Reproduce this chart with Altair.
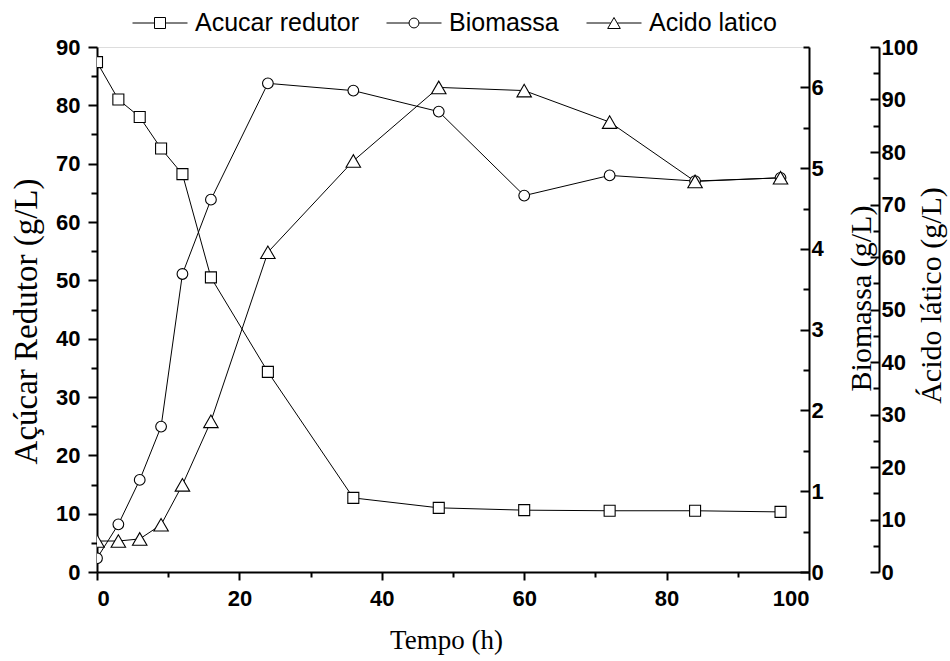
import altair as alt
import pandas as pd

# ---- data ----
tempo = [0, 3, 6, 9, 12, 16, 24, 36, 48, 60, 72, 84, 96]
acucar = [87.4, 81.0, 78.0, 72.6, 68.2, 50.5, 34.3, 12.7, 11.0, 10.6, 10.5, 10.5, 10.3]
biomassa = [0.17, 0.59, 1.14, 1.80, 3.69, 4.61, 6.05, 5.96, 5.70, 4.66, 4.91, 4.84, 4.88]
acido = [5.9, 5.9, 6.3, 9.0, 16.6, 28.7, 60.9, 78.3, 92.3, 91.7, 85.7, 74.4, 75.1]
series = ["Acucar redutor", "Biomassa", "Acido latico"]

x_major = [0, 20, 40, 60, 80, 100]
x_minor = [10, 30, 50, 70, 90]
ac_major = [0, 10, 20, 30, 40, 50, 60, 70, 80, 90]
ac_minor = [5, 15, 25, 35, 45, 55, 65, 75, 85]
bio_major = [0, 1, 2, 3, 4, 5, 6]
bio_minor = [0.5, 1.5, 2.5, 3.5, 4.5, 5.5, 6.5]
la_major = [0, 10, 20, 30, 40, 50, 60, 70, 80, 90, 100]
la_minor = [5, 15, 25, 35, 45, 55, 65, 75, 85, 95]

df = pd.DataFrame({"t": tempo, "acucar": acucar, "biomassa": biomassa, "acido": acido})
leg = pd.DataFrame({"serie": series})

W, H = 712, 525
SANS = "Liberation Sans"
SERIF = "Liberation Serif"

xs = alt.Scale(domain=[0, 100], nice=False, zero=False)
sc_ac = alt.Scale(domain=[0, 90], nice=False)
sc_bio = alt.Scale(domain=[0, 6.5], nice=False)
sc_la = alt.Scale(domain=[0, 100], nice=False)

AX = dict(domainColor="black", domainWidth=2, tickColor="black", tickWidth=2,
          labelFont=SANS, labelFontWeight="bold", labelFontSize=22, labelColor="black",
          grid=False, titleFont=SERIF, titleFontWeight="normal", titleColor="black")

def X(axis=None):
    return alt.X("t:Q", scale=xs, axis=axis)

base = alt.Chart(df)

def line(field, sc):
    return base.mark_line(color="black", strokeWidth=1, clip=True).encode(
        x=X(), y=alt.Y(f"{field}:Q", scale=sc, axis=None))

def pts(field, sc, shape, size):
    return base.mark_point(shape=shape, size=size, filled=True, fill="white", stroke="black",
                           strokeWidth=1.1, opacity=1, clip=True).encode(
        x=X(), y=alt.Y(f"{field}:Q", scale=sc, axis=None))

def ax_layer(field, sc, axis):
    return base.mark_point(opacity=0).encode(
        x=X(), y=alt.Y(f"{field}:Q", scale=sc, axis=axis))

layers = [
    line("acucar", sc_ac), line("biomassa", sc_bio), line("acido", sc_la),
    pts("acucar", sc_ac, "square", 121),
    pts("biomassa", sc_bio, "circle", 115),
    pts("acido", sc_la, "triangle-up", 210),
]

# x axes
layers.append(base.mark_point(opacity=0).encode(
    x=X(alt.Axis(orient="bottom", values=x_major, tickSize=8, labelPadding=8, title="Tempo (h)",
                 titleFontSize=27, titleX=349, titleY=68, titleAlign="center",
                 titleBaseline="middle", **AX))))
layers.append(base.mark_point(opacity=0).encode(
    x=X(alt.Axis(orient="bottom", values=x_minor, tickSize=5, labels=False, domain=False,
                 title=None, **AX))))

# left axis
layers.append(ax_layer("acucar", sc_ac, alt.Axis(
    orient="left", values=ac_major, tickSize=9, labelPadding=8, title="Açúcar Redutor (g/L)",
    titleFontSize=33, titleAngle=270, titleX=-71, titleY=274, titleAlign="center",
    titleBaseline="middle", **AX)))
layers.append(ax_layer("acucar", sc_ac, alt.Axis(
    orient="left", values=ac_minor, tickSize=6, labels=False, domain=False, title=None, **AX)))

# biomassa axis (right, ticks inward)
layers.append(ax_layer("biomassa", sc_bio, alt.Axis(
    orient="right", values=bio_major, ticks=False, labelPadding=2, title="Biomassa (g/L)",
    titleFontSize=30, titleAngle=270, titleX=52, titleY=251, titleAlign="center",
    titleBaseline="middle", **AX)))
layers.append(ax_layer("biomassa", sc_bio, alt.Axis(
    orient="right", offset=-9, values=bio_major, tickSize=9, labels=False, domain=False,
    title=None, **AX)))
layers.append(ax_layer("biomassa", sc_bio, alt.Axis(
    orient="right", offset=-6, values=bio_minor, tickSize=6, labels=False, domain=False,
    title=None, **AX)))

# acido latico axis (right, offset, ticks inward)
layers.append(ax_layer("acido", sc_la, alt.Axis(
    orient="right", offset=70, values=la_major, ticks=False, labelPadding=2,
    title="Ácido lático (g/L)", titleFontSize=30, titleAngle=270, titleX=52, titleY=248,
    titleAlign="center", titleBaseline="middle", **AX)))
layers.append(ax_layer("acido", sc_la, alt.Axis(
    orient="right", offset=61, values=la_major, tickSize=9, labels=False, domain=False,
    title=None, **AX)))
layers.append(ax_layer("acido", sc_la, alt.Axis(
    orient="right", offset=64, values=la_minor, tickSize=6, labels=False, domain=False,
    title=None, **AX)))

# legend-only layer (no marks drawn: data filtered out, legend kept by explicit domain)
sym_sq = "M-1,0H-0.2M0.2,0H1M-0.2,-0.2H0.2V0.2H-0.2Z"
sym_ci = "M-1,0H-0.18M0.18,0H1M-0.18,0A0.18,0.18 0 1,0 0.18,0A0.18,0.18 0 1,0 -0.18,0Z"
sym_tr = "M-1,0H-0.12M0.12,0H1M0,-0.2L0.23,0.2L-0.23,0.2Z"
layers.append(alt.Chart(leg).transform_filter("false").mark_point(
    filled=False, color="black", strokeWidth=1, opacity=1, size=3025).encode(
    shape=alt.Shape("serie:N", scale=alt.Scale(domain=series, range=[sym_sq, sym_ci, sym_tr]),
                    legend=alt.Legend(orient="none", legendX=35, legendY=-52,
                                      direction="horizontal", title=None,
                                      labelFont=SANS, labelFontSize=25, labelColor="black",
                                      labelLimit=0, symbolOpacity=1,
                                      symbolSize=3025, symbolStrokeWidth=1,
                                      symbolStrokeColor="black",
                                      columnPadding=25, labelOffset=7, padding=0))))

chart = alt.layer(*layers).resolve_scale(y="independent").resolve_axis(
    x="independent", y="independent").properties(
    width=W, height=H,
    autosize=alt.AutoSizeParams(type="none"),
    padding={"left": 97, "top": 47, "right": 950 - 97 - W, "bottom": 661 - 47 - H},
).configure_view(stroke=None).configure(background="white")

chart.save("out.html", embed_options={"renderer": "svg", "actions": False})
